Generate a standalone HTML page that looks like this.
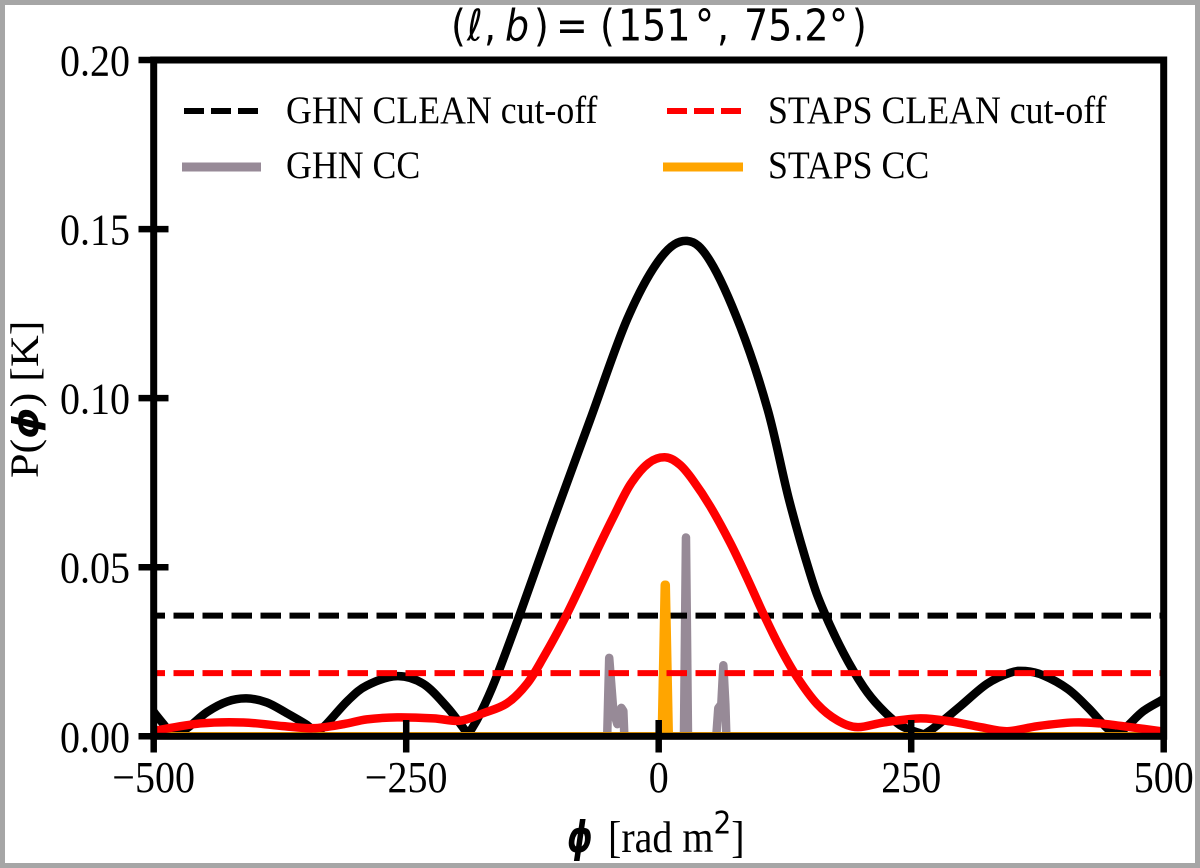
<!DOCTYPE html>
<html lang="en">
<head>
<meta charset="utf-8">
<title>Faraday depth spectrum</title>
<style>
  html, body { margin: 0; padding: 0; background: #fff; }
  #chart { display: block; width: 1200px; height: 868px; }
  text { fill: #000; font-family: "Liberation Serif", serif; }
  .math, tspan.math { font-family: "DejaVu Sans", sans-serif; }
</style>
</head>
<body>
<svg id="chart" xmlns="http://www.w3.org/2000/svg" width="1200" height="868" viewBox="0 0 1200 868">
  <defs>
    <clipPath id="plot-clip"><rect x="153.7" y="60" width="1010" height="676.3"/></clipPath>
  </defs>
  <rect x="0" y="0" width="1200" height="868" fill="#a6a6a6"/>
  <rect x="5" y="5" width="1190" height="858" fill="#ffffff"/>
  <g id="marks" clip-path="url(#plot-clip)"></g>
  <g id="axes"></g>

  <text class="math" transform="translate(0,40.5) scale(1,1.15)" font-size="38"><tspan x="451">(</tspan><tspan x="467" font-style="italic">ℓ</tspan><tspan x="484">,</tspan><tspan x="505" font-style="italic">b</tspan><tspan x="534">)</tspan><tspan x="556">=</tspan><tspan x="600">(</tspan><tspan x="618">151</tspan><tspan x="695">°</tspan><tspan x="717">,</tspan><tspan x="744">75.2</tspan><tspan x="829">°</tspan><tspan x="852">)</tspan></text>

  <text class="math" transform="translate(567,852) scale(0.85,1.15)" x="0" y="0" font-size="38" font-style="italic" font-weight="bold">ϕ</text>
  <text transform="translate(608,852) scale(1,1.1)" x="0" y="0" font-size="40">[rad m<tspan class="math" font-size="28" dy="-17">2</tspan><tspan dy="17">]</tspan></text>
  <text transform="translate(38,478) scale(1,1.1) rotate(-90)" x="0" y="0" font-size="40">P(<tspan class="math" font-style="italic" font-weight="bold" font-size="36">ϕ</tspan>) [K]</text>

  <g>
    <line x1="184" x2="258" y1="111" y2="111" stroke="#000" stroke-width="6" stroke-dasharray="20 7"/>
    <text transform="translate(286,123) scale(1,1.1)" font-size="35.8">GHN CLEAN cut-off</text>
    <line x1="667" x2="741" y1="111" y2="111" stroke="#ff0000" stroke-width="6" stroke-dasharray="20 7"/>
    <text transform="translate(768,123) scale(1,1.1)" font-size="35.8">STAPS CLEAN cut-off</text>
    <line x1="182" x2="261" y1="167" y2="167" stroke="#978a97" stroke-width="9"/>
    <text transform="translate(286,178) scale(1,1.1)" font-size="35.8">GHN CC</text>
    <line x1="663" x2="743" y1="167" y2="167" stroke="#ffa500" stroke-width="9"/>
    <text transform="translate(768,178) scale(1,1.1)" font-size="35.8">STAPS CC</text>
  </g>
</svg>

<script>
const xTicks = [-500, -250, 0, 250, 500];
const yTicks = [0, 0.05, 0.10, 0.15, 0.20];
const yTickLabels = ["0.00", "0.05", "0.10", "0.15", "0.20"];
const xTickLabels = ["\u2212500", "\u2212250", "0", "250", "500"];

const ghnPhi = [-500,-490,-481,-467,-447,-427,-408,-388,-368,-348,-340,-330,-308,-289,-259,-233,-210,-194,-189,-186,-177,-162,-137,-107,-68,-31,2,28,51,81,108,129,150,163,183,203,219,239,259,264,276,299,325,348,363,381,405,425,444,454,464,480,500];
const ghnP = [0.0072,0.0035,0.0005,0.0024,0.0072,0.0103,0.0112,0.01,0.0068,0.0033,0.0012,0.0033,0.0105,0.015,0.0178,0.0155,0.0088,0.0027,0.0006,0.0018,0.0065,0.0165,0.0365,0.0617,0.0935,0.1235,0.1415,0.1465,0.1405,0.121,0.0965,0.07,0.048,0.0373,0.0246,0.0145,0.0086,0.0033,0.0009,0.0008,0.0033,0.009,0.0155,0.0188,0.0193,0.018,0.014,0.0085,0.0024,0.0008,0.003,0.0075,0.011];

const stapsPhi = [-500,-454,-411,-372,-342,-312,-289,-259,-223,-197,-174,-150,-130,-114,-94,-78,-61,-45,-28,-10,7,21,34,51,71,88,104,120,137,157,177,197,223,259,289,319,345,375,411,437,467,500];
const stapsP = [0.0016,0.0038,0.0041,0.003,0.0024,0.0036,0.005,0.0056,0.0053,0.0046,0.0068,0.0098,0.0157,0.0234,0.0343,0.0441,0.055,0.0648,0.0745,0.0808,0.0825,0.0803,0.0757,0.068,0.0571,0.0465,0.036,0.0263,0.0175,0.0095,0.0047,0.0027,0.0041,0.0053,0.0044,0.0027,0.0015,0.003,0.0041,0.0038,0.0027,0.0014];

const ghnCcPhi = [-500,-51,-49,-45,-41,-37,-35,-34,25,26,27,28,29,57,59,62,64,66,67,500];
const ghnCcP = [0,0,0.0232,0.0078,0.0036,0.0084,0.0075,0,0,0.03,0.0588,0.03,0,0,0.0083,0.0095,0.021,0.0095,0,0];

const stapsCcPhi = [-500,3,6,7,10,500];
const stapsCcP = [0,0,0.0448,0.0448,0,0];

const ghnCutoff = [0.0357];
const stapsCutoff = [0.0187];

const SVGNS = "http://www.w3.org/2000/svg";
const xAxis = v => 153.7 + (v + 500) * 1.01;
const yAxis = v => 736.3 - v * 3381.5;

function make(tag, parent, attrs) {
  const node = document.createElementNS(SVGNS, tag);
  Object.keys(attrs).forEach(k => node.setAttribute(k, attrs[k]));
  parent.appendChild(node);
  return node;
}
function smoothPath(xs, ys) {
  const p = xs.map((v, i) => [xAxis(v), yAxis(ys[i])]);
  let d = "M" + p[0][0].toFixed(2) + " " + p[0][1].toFixed(2);
  for (let i = 0; i < p.length - 1; i++) {
    const p0 = p[Math.max(i - 1, 0)], p1 = p[i], p2 = p[i + 1], p3 = p[Math.min(i + 2, p.length - 1)];
    const c1x = p1[0] + (p2[0] - p0[0]) / 6, c1y = p1[1] + (p2[1] - p0[1]) / 6;
    const c2x = p2[0] - (p3[0] - p1[0]) / 6, c2y = p2[1] - (p3[1] - p1[1]) / 6;
    d += "C" + c1x.toFixed(2) + " " + c1y.toFixed(2) + " " + c2x.toFixed(2) + " " + c2y.toFixed(2) + " " + p2[0].toFixed(2) + " " + p2[1].toFixed(2);
  }
  return d;
}
function straightPath(xs, ys) {
  return xs.map((v, i) => (i ? "L" : "M") + xAxis(v).toFixed(2) + " " + yAxis(ys[i]).toFixed(2)).join("");
}

const marks = document.getElementById("marks");
const axes = document.getElementById("axes");

const ghnCcLine = make("path", marks, { d: straightPath(ghnCcPhi, ghnCcP), fill: "none", stroke: "#978a97", "stroke-width": 8.5, "stroke-linejoin": "round" });



const ghnLine = make("path", marks, { d: smoothPath(ghnPhi, ghnP), fill: "none", stroke: "#000", "stroke-width": 8.5, "stroke-linejoin": "round" });



const ghnCutLine = make("line", marks, { x1: xAxis(-500), x2: xAxis(500), y1: yAxis(ghnCutoff[0]), y2: yAxis(ghnCutoff[0]), stroke: "#000", "stroke-width": 6, "stroke-dasharray": "20.5 8.5", "stroke-dashoffset": 9.2 });



const stapsCcLine = make("path", marks, { d: straightPath(stapsCcPhi, stapsCcP), fill: "none", stroke: "#ffa500", "stroke-width": 8.5, "stroke-linejoin": "round" });



const stapsLine = make("path", marks, { d: smoothPath(stapsPhi, stapsP), fill: "none", stroke: "#ff0000", "stroke-width": 8.5, "stroke-linejoin": "round" });



const stapsCutLine = make("line", marks, { x1: xAxis(-500), x2: xAxis(500), y1: yAxis(stapsCutoff[0]), y2: yAxis(stapsCutoff[0]), stroke: "#ff0000", "stroke-width": 6, "stroke-dasharray": "20.5 8.5", "stroke-dashoffset": 9.2 });



xTicks.forEach((t, i) => {
  const tick = make("line", axes, { x1: xAxis(t), x2: xAxis(t), y1: 720, y2: 752.5, stroke: "#000", "stroke-width": 6.5 });
  
  
  const label = make("text", axes, { transform: "translate(" + xAxis(t) + ",792) scale(1,1.1)", "font-size": 40, "text-anchor": "middle" });
  label.textContent = xTickLabels[i];
  
  
});
yTicks.forEach((t, i) => {
  const tick = make("line", axes, { x1: 138.5, x2: 168.5, y1: yAxis(t), y2: yAxis(t), stroke: "#000", "stroke-width": 6.5 });
  
  
  const label = make("text", axes, { transform: "translate(130," + (yAxis(t) + 15.5) + ") scale(1,1.1)", "font-size": 40, "text-anchor": "end" });
  label.textContent = yTickLabels[i];
  
  
});

const spines = make("rect", axes, { x: xAxis(-500), y: yAxis(0.2), width: xAxis(500) - xAxis(-500), height: yAxis(0) - yAxis(0.2), fill: "none", stroke: "#000", "stroke-width": 7 });


</script>
</body>
</html>
